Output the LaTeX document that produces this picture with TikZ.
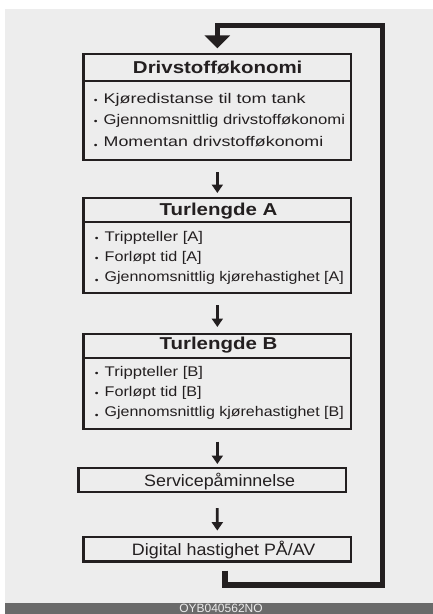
\documentclass[tikz,border=0pt]{standalone}
\usepackage{graphicx}
\usepackage{fontspec}
\setmainfont{Liberation Sans}[FakeStretch=1.19]
\newfontfamily\barfont{Liberation Sans}
\usetikzlibrary{arrows.meta}
\definecolor{ink}{HTML}{231F20}
\definecolor{panel}{HTML}{EDEDED}
\definecolor{barcol}{HTML}{6A6A6A}
\newcommand\dotmark{\llap{{\fontsize{9}{9}\selectfont •}\hspace{6pt}}}
\newcommand\lowmark{\llap{\raisebox{-2.2pt}{\fontsize{9}{9}\selectfont •}\hspace{6pt}}}
\newcommand\hsq[2]{\scalebox{#1}[1]{#2}}
\begin{document}
\begin{tikzpicture}[x=1pt,y=-1pt,
  framebox/.style={draw=ink, line width=2.4pt, rectangle, inner sep=0pt, outer sep=0pt, minimum width=267.5pt},
  headtext/.style={font=\fontsize{17.2}{17.2}\selectfont\bfseries, text=ink, anchor=base, inner sep=0pt},
  itemtext/.style={font=\fontsize{14}{14}\selectfont, text=ink, anchor=base west, inner sep=0pt},
  plaintext/.style={font=\fontsize{16.5}{16.5}\selectfont, text=ink, anchor=base, inner sep=0pt},
  flow/.style={draw=ink, line width=2.8pt, -{Triangle[width=11pt,length=8.5pt]}},
  backline/.style={draw=ink, line width=5.5pt, line join=miter, -{Triangle[width=25pt,length=13pt]}},
]
\clip (0,0) rectangle (433,614);
\fill[white] (0,0) rectangle (433,614);
\fill[panel] (5,9) rectangle (433,603);
\fill[barcol] (5,603) rectangle (433,614);
\node[font=\barfont\fontsize{12}{12}\selectfont, text=white!92!black, anchor=base, inner sep=0pt] (code) at (221,612.8) {OYB040562NO};

% box 1
\node[framebox, minimum height=26.7pt] (h1) at (217.35,67.35) {};
\node[framebox, minimum height=79.3pt] (b1) at (217.35,120.35) {};
\node[headtext] (t1) at (217.7,73.3) {Drivstofføkonomi};
\node[itemtext] (i11) at (103.5,103.3) {\dotmark\hsq{1.08}{Kjøredistanse til tom tank}};
\node[itemtext] (i12) at (103.5,124.8) {\dotmark Gjennomsnittlig drivstofføkonomi};
\node[itemtext] (i13) at (103.5,146.3) {\lowmark\hsq{1.07}{Momentan drivstofføkonomi}};

% box 2
\node[framebox, minimum height=24.1pt] (h2) at (217.35,209.95) {};
\node[framebox, minimum height=70.8pt] (b2) at (217.35,257.4) {};
\node[headtext] (t2) at (218.5,215.1) {Turlengde A};
\node[itemtext] (i21) at (104.5,241.7) {\dotmark Trippteller [A]};
\node[itemtext] (i22) at (104.5,261.7) {\dotmark\hsq{0.97}{Forløpt tid [A]}};
\node[itemtext] (i23) at (104.5,281.7) {\lowmark\hsq{0.96}{Gjennomsnittlig kjørehastighet [A]}};

% box 3
\node[framebox, minimum height=24.1pt] (h3) at (217.35,345.95) {};
\node[framebox, minimum height=70.8pt] (b3) at (217.35,393.4) {};
\node[headtext] (t3) at (218.5,349.6) {Turlengde B};
\node[itemtext] (i31) at (104.5,376.6) {\dotmark Trippteller [B]};
\node[itemtext] (i32) at (104.5,396.4) {\dotmark\hsq{0.97}{Forløpt tid [B]}};
\node[itemtext] (i33) at (104.5,416.2) {\lowmark\hsq{0.96}{Gjennomsnittlig kjørehastighet [B]}};

% box 4 and 5
\node[framebox, minimum width=267.6pt, minimum height=24.2pt] (s) at (212.3,480) {};
\node[plaintext] (st) at (219.7,486) {\hsq{0.91}{Servicepåminnelse}};
\node[framebox, minimum width=267.6pt, minimum height=24.4pt] (d) at (217.3,549.3) {};
\node[plaintext] (dt) at (223.7,555.5) {\hsq{0.91}{Digital hastighet PÅ/AV}};

% arrows
\draw[flow, shorten <=12pt, shorten >=4.9pt] (b1.south) -- (h2.north);
\draw[flow, shorten <=12.2pt, shorten >=6.9pt] (b2.south) -- (h3.north);
\draw[flow, shorten <=12.9pt, shorten >=3.9pt] (b3.south) -- (b3.south |- s.north);
\draw[flow, shorten <=15.9pt, shorten >=6.5pt] (b3.south |- s.south) -- (d.north);

% loop back
\coordinate (ls) at (225,570.7);
\coordinate (lb) at (225,585);
\coordinate (lr) at (382.7,585);
\coordinate (lt) at (382.7,25.3);
\coordinate (ll) at (217.35,25.3);
\draw[backline, shorten >=5.7pt] (ls) -- (lb) -- (lr) -- (lt) -- (ll) -- (h1.north);
\end{tikzpicture}
\end{document}
